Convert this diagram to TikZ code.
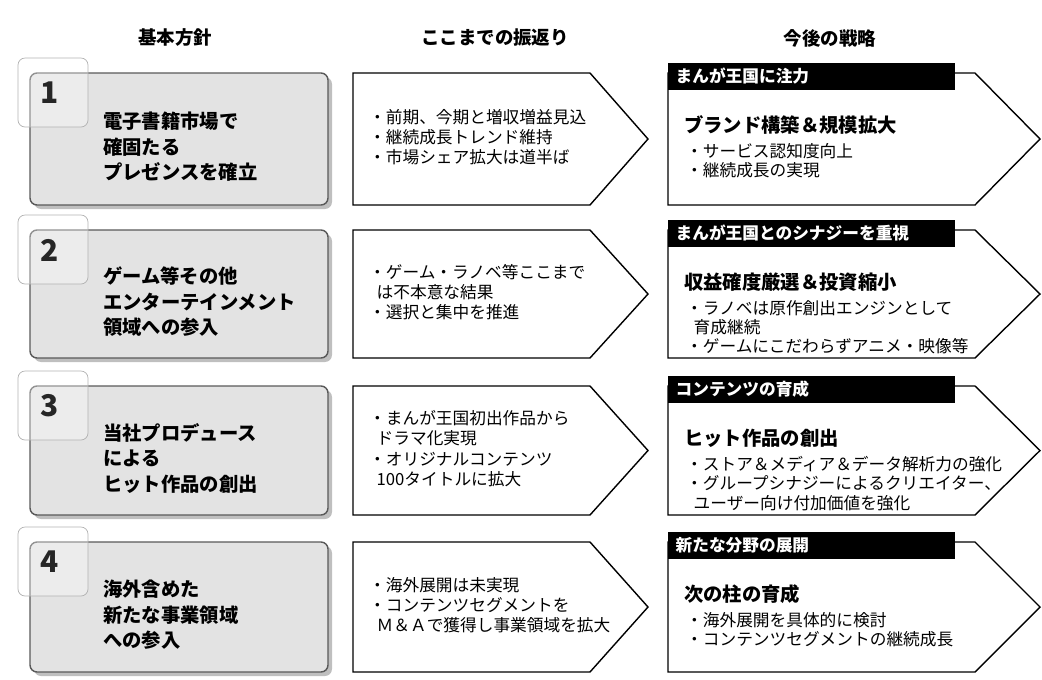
\documentclass[tikz,border=0pt]{standalone}
\usepackage{fontspec}
\setmainfont{Noto Sans CJK JP}
\usetikzlibrary{positioning}
\tikzset{
  goalbox/.style={draw=gray!70!black, thick, rounded corners=4pt, fill=gray!22},
  numbox/.style={draw=gray!60, rounded corners=4pt, fill=white, fill opacity=0.35},
  numtext/.style={font=\fontsize{17}{17}\selectfont\bfseries, text=gray!30!black},
  arrowbox/.style={draw=black, thick, fill=white},
  headbox/.style={fill=black, text=white, font=\fontsize{9.5}{10}\selectfont\bfseries, anchor=west, inner sep=3pt},
  coltitle/.style={font=\fontsize{10.5}{12}\selectfont\bfseries},
  goaltext/.style={font=\fontsize{11}{14.5}\selectfont\bfseries, align=left, anchor=west},
  reviewtext/.style={font=\fontsize{9.5}{11.5}\selectfont, align=left, anchor=west},
  plantitle/.style={font=\fontsize{11}{12}\selectfont\bfseries, anchor=west},
  plantext/.style={font=\fontsize{9.5}{11}\selectfont, align=left, anchor=north west}
}
\begin{document}
\begin{tikzpicture}[x=0.02cm, y=-0.02cm]
    \useasboundingbox (0,0) rectangle (1042,680);

    % Column titles
    \node[coltitle] (t1) at (175,38) {基本方針};
    \node[coltitle] (t2) at (495,38) {ここまでの振返り};
    \node[coltitle] (t3) at (830,38) {今後の戦略};

    % Rows: top, bottom, number, goal, review, header, plan title, plan text
    \foreach \top/\bot/\num/\goal/\review/\head/\ptitle/\ptext in {
      73/205/1/{電子書籍市場で\\確固たる\\プレゼンスを確立}/{・前期、今期と増収増益見込\\・継続成長トレンド維持\\・市場シェア拡大は道半ば}/{まんが王国に注力}/{ブランド構築＆規模拡大}/{・サービス認知度向上\\・継続成長の実現},
      230/358/2/{ゲーム等その他\\エンターテインメント\\領域への参入}/{・ゲーム・ラノベ等ここまで\\\ \ は不本意な結果\\・選択と集中を推進}/{まんが王国とのシナジーを重視}/{収益確度厳選＆投資縮小}/{・ラノベは原作創出エンジンとして\\\ \ 育成継続\\・ゲームにこだわらずアニメ・映像等},
      386/515/3/{当社プロデュース\\による\\ヒット作品の創出}/{・まんが王国初出作品から\\\ \ ドラマ化実現\\・オリジナルコンテンツ\\\ \ 100タイトルに拡大}/{コンテンツの育成}/{ヒット作品の創出}/{・ストア＆メディア＆データ解析力の強化\\・グループシナジーによるクリエイター、\\\ \ ユーザー向け付加価値を強化},
      542/672/4/{海外含めた\\新たな事業領域\\への参入}/{・海外展開は未実現\\・コンテンツセグメントを\\\ \ Ｍ＆Ａで獲得し事業領域を拡大}/{新たな分野の展開}/{次の柱の育成}/{・海外展開を具体的に検討\\・コンテンツセグメントの継続成長}} {
      \pgfmathsetmacro{\mid}{(\top+\bot)/2}
      % Left: basic policy
      \fill[gray!50, rounded corners=4pt] (34,\top+4) rectangle (332,\bot+4);
      \draw[goalbox] (30,\top) rectangle (328,\bot);
      \node[goaltext] (goal\num) at (97,\mid+8) {\goal};
      \draw[numbox] (18,\top-15) rectangle (88,\top+54);
      \node[numtext] (num\num) at (50,\top+20) {\num};
      % Middle: review arrow
      \draw[arrowbox] (353,\top) -- (590,\top) -- (648,\mid) -- (590,\bot) -- (353,\bot) -- cycle;
      \node[reviewtext] (review\num) at (363,\mid-2) {\review};
      % Right: strategy arrow
      \draw[arrowbox] (668,\top) -- (975,\top) -- (1040,\mid) -- (975,\bot) -- (668,\bot) -- cycle;
      \fill[black] (668,\top-10) rectangle (955,\top+17);
      \node[headbox] (head\num) at (670,\top+3) {\head};
      \node[plantitle] (plan\num) at (678,\top+52) {\ptitle};
      \node[plantext] (ptext\num) at (680,\top+64) {\ptext};
    }
\end{tikzpicture}
\end{document}
